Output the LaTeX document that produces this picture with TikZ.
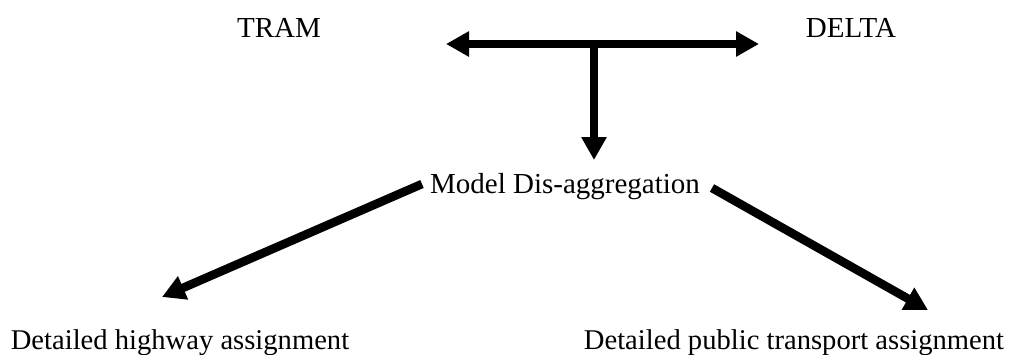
\documentclass[tikz,border=0pt]{standalone}
\usepackage{fontspec}
\setmainfont{Liberation Serif}
\usetikzlibrary{arrows.meta}
\begin{document}
\begin{tikzpicture}[x=0.5pt,y=-0.5pt,
  lbl/.style={font=\fontsize{14.5pt}{17pt}\selectfont, inner sep=0pt, anchor=base},
  small/.style={font=\fontsize{14.3pt}{17pt}\selectfont},
  fat/.style={line width=4.3pt, -{Triangle[length=11.5pt,width=12pt]}},
  fatboth/.style={line width=4.3pt, {Triangle[length=11.5pt,width=12pt]}-{Triangle[length=11.5pt,width=12pt]}}]
\useasboundingbox (0,0) rectangle (1012,354);
\node[lbl] (tram) at (279,37) {TRAM};
\node[lbl] (delta) at (851,37) {DELTA};
\node[lbl] (model) at (565,193) {Model Dis-aggregation};
\node[lbl,small] (hw) at (180,349) {Detailed highway assignment};
\node[lbl,small] (pt) at (794,349) {Detailed public transport assignment};
\coordinate (la) at (446,44);
\coordinate (ra) at (759,44);
\coordinate (j) at (594,44);
\coordinate (mt) at (594,160);
\coordinate (ls) at (422,184);
\coordinate (lt) at (162,297);
\coordinate (rs) at (712,188);
\coordinate (rt) at (928,310);
\draw[fatboth] (la) -- (ra);
\draw[fat] (j) -- (mt);
\draw[fat] (ls) -- (lt);
\draw[fat] (rs) -- (rt);
\end{tikzpicture}
\end{document}
